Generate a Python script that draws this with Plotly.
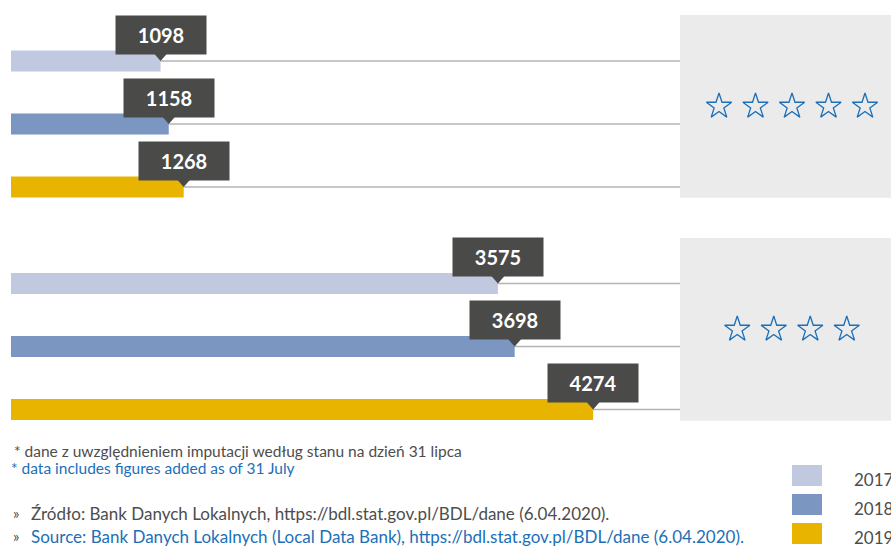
import plotly.graph_objects as go

# dane
lata = ["2017", "2018", "2019"]
kolory = {"2017": "#c1c9e1", "2018": "#7b96c0", "2019": "#e8b400"}
wartosci_gora = [1098, 1158, 1268]
wartosci_dol = [3575, 3698, 4274]
gwiazdki = [5, 4]

przypis_pl = "* dane z uwzględnieniem imputacji według stanu na dzień 31 lipca"
przypis_en = "* data includes figures added as of 31 July"
zrodlo_pl = "Źródło: Bank Danych Lokalnych, https://bdl.stat.gov.pl/BDL/dane (6.04.2020)."
zrodlo_en = "Source: Bank Danych Lokalnych (Local Data Bank), https://bdl.stat.gov.pl/BDL/dane (6.04.2020)."

W, H = 891, 546
SZARY_TXT = "#4d4d4d"
NIEBIESKI = "#1c6fb7"
ETYKIETA = "#4a4a49"
FONT = "Lato"

def px_x(p): return p / W
def px_y(p): return 1 - p / H

fig = go.Figure()

panele = [
    ("x", "y", wartosci_gora, (29.5, 218.5), (15, 197.7), "x3", "y3", gwiazdki[0]),
    ("x2", "y2", wartosci_dol, (252, 441), (238, 420.7), "x4", "y4", gwiazdki[1]),
]

x_max = (680 - 11) / 0.1362
layout_axes = {}
for k, (xr, yr, vals, dom, box, sx, sy, n) in enumerate(panele):
    xa = "xaxis" + xr[1:]
    ya = "yaxis" + yr[1:]
    layout_axes[xa] = dict(domain=[px_x(11), px_x(680)], range=[0, x_max], visible=False,
                           anchor=yr, fixedrange=True)
    layout_axes[ya] = dict(domain=[px_y(dom[1]), px_y(dom[0])], range=[2.5, -0.5], visible=False,
                           anchor=xr, fixedrange=True)
    for i, rok in enumerate(lata):
        fig.add_trace(go.Bar(x=[vals[i]], y=[i], orientation="h", width=0.334,
                             marker=dict(color=kolory[rok], line=dict(width=0)),
                             xaxis=xr, yaxis=yr, showlegend=False, hoverinfo="skip"))
        # linia pozioma
        fig.add_shape(type="line", xref=xr + " domain", yref=yr, x0=0, x1=1, y0=i, y1=i,
                      line=dict(color="#b4b4b4", width=1.5), layer="below")
        # dzióbek etykiety
        fig.add_shape(type="path", xref=xr, yref=yr, xsizemode="pixel", ysizemode="pixel",
                      xanchor=vals[i], yanchor=i, path="M -7,8 L 7,8 L 0,0 Z",
                      fillcolor=ETYKIETA, line=dict(width=0))
        fig.add_annotation(x=vals[i], y=i, xref=xr, yref=yr, yshift=26.5, showarrow=False,
                           text=f"<b>{vals[i]}</b>", width=90, height=38, borderpad=0,
                           bgcolor=ETYKIETA, font=dict(family=FONT, size=20, color="white"),
                           xanchor="center", yanchor="middle")
    # szare pole z gwiazdkami
    layout_axes["xaxis" + sx[1:]] = dict(domain=[px_x(680), 1], range=[-112 / 36.5, 99 / 36.5],
                                         visible=False, anchor=sy, fixedrange=True)
    layout_axes["yaxis" + sy[1:]] = dict(domain=[px_y(box[1]), px_y(box[0])], range=[-1, 1],
                                         visible=False, anchor=sx, fixedrange=True)
    fig.add_shape(type="rect", xref=sx + " domain", yref=sy + " domain", x0=0, x1=1, y0=0, y1=1,
                  fillcolor="#ebebeb", line=dict(width=0), layer="below")
    fig.add_trace(go.Scatter(x=[j - (n - 1) / 2 for j in range(n)], y=[0] * n, mode="markers",
                             marker=dict(symbol="star-open", size=19, color=NIEBIESKI,
                                         line=dict(width=1.3, color=NIEBIESKI)),
                             xaxis=sx, yaxis=sy, showlegend=False, hoverinfo="skip"))

# przypisy
fig.add_annotation(x=px_x(12), y=px_y(451), xref="paper", yref="paper", text=przypis_pl,
                   showarrow=False, xanchor="left", yanchor="middle",
                   font=dict(family=FONT, size=15.5, color=SZARY_TXT))
fig.add_annotation(x=px_x(9), y=px_y(468), xref="paper", yref="paper", text=przypis_en,
                   showarrow=False, xanchor="left", yanchor="middle",
                   font=dict(family=FONT, size=15.5, color=NIEBIESKI))
for yy, txt, kol in [(513, zrodlo_pl, SZARY_TXT), (536, zrodlo_en, NIEBIESKI)]:
    fig.add_annotation(x=px_x(11), y=px_y(yy), xref="paper", yref="paper", text="»",
                       showarrow=False, xanchor="left", yanchor="middle",
                       font=dict(family=FONT, size=15, color=SZARY_TXT))
    fig.add_annotation(x=px_x(29), y=px_y(yy), xref="paper", yref="paper", text=txt,
                       showarrow=False, xanchor="left", yanchor="middle",
                       font=dict(family=FONT, size=17, color=kol))

# legenda
for i, rok in enumerate(lata):
    top = 465 + i * 29
    fig.add_shape(type="rect", xref="paper", yref="paper", x0=px_x(792), x1=px_x(822),
                  y0=px_y(top + 21), y1=px_y(top), fillcolor=kolory[rok], line=dict(width=0))
    fig.add_annotation(x=px_x(852), y=px_y(top + 14), xref="paper", yref="paper", text=rok,
                       showarrow=False, xanchor="left", yanchor="middle",
                       font=dict(family=FONT, size=17, color=SZARY_TXT))

fig.update_layout(
    width=W, height=H, margin=dict(l=0, r=0, t=0, b=0),
    plot_bgcolor="white", paper_bgcolor="white", showlegend=False,
    **layout_axes,
)

fig.write_html("out.html", config={"displayModeBar": False},
               post_script="document.body.style.margin='0';")
